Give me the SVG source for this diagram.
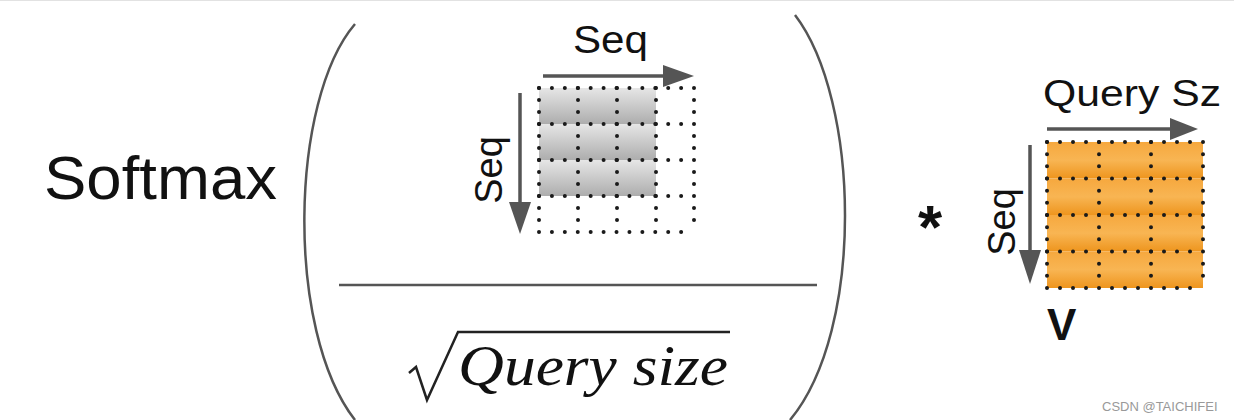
<svg xmlns="http://www.w3.org/2000/svg" width="1234" height="420" viewBox="0 0 1234 420">
<defs>
<linearGradient id="gGray" x1="0" y1="0" x2="0" y2="1">
<stop offset="0" stop-color="#e6e6e6"/>
<stop offset="1" stop-color="#adadad"/>
</linearGradient>
<linearGradient id="gOrange" x1="0" y1="0" x2="0" y2="1">
<stop offset="0" stop-color="#f6a83e"/>
<stop offset="0.5" stop-color="#f8b553"/>
<stop offset="1" stop-color="#ee951e"/>
</linearGradient>
<style>
.sans{font-family:"Liberation Sans",Arial,sans-serif;fill:#111}
.arrow{stroke:#555;stroke-width:3.5;fill:none}
.head{fill:#555}
.paren{stroke:#555;stroke-width:2.5;fill:none}
.dv{stroke:#1a1a1a;stroke-width:4;stroke-linecap:round;stroke-dasharray:0 12}
.dh{stroke:#1a1a1a;stroke-width:4;stroke-linecap:round;stroke-dasharray:0 12.92}
.dv2{stroke:#1a1a1a;stroke-width:4;stroke-linecap:round;stroke-dasharray:0 12.17}
.dh2{stroke:#1a1a1a;stroke-width:4;stroke-linecap:round;stroke-dasharray:0 13}
</style>
</defs>
<rect width="1234" height="420" fill="#ffffff"/>
<line x1="0" y1="0.5" x2="1234" y2="0.5" stroke="#e2e2e2" stroke-width="1"/>

<g id="softmax">
<text class="sans" x="44" y="199" font-size="61" textLength="233" lengthAdjust="spacingAndGlyphs">Softmax</text>
</g>

<g id="parentheses">
<path class="paren" d="M355,24 C290,100 285,330 355,420"/>
<path class="paren" d="M795,15 C860,100 865,330 790,420"/>
<line x1="339" y1="285" x2="817" y2="285" stroke="#555" stroke-width="2.5"/>
</g>

<g id="score-matrix">
<rect x="539" y="88" width="117" height="36" fill="url(#gGray)"/>
<rect x="539" y="124" width="117" height="36" fill="url(#gGray)"/>
<rect x="539" y="160" width="117" height="36" fill="url(#gGray)"/>
<line class="dv" x1="539" y1="88" x2="539" y2="232"/>
<line class="dv" x1="578" y1="88" x2="578" y2="232"/>
<line class="dv" x1="617" y1="88" x2="617" y2="232"/>
<line class="dv" x1="656" y1="88" x2="656" y2="232"/>
<line class="dv" x1="694" y1="88" x2="694" y2="232"/>
<line class="dh" x1="539" y1="88" x2="694" y2="88"/>
<line class="dh" x1="539" y1="124" x2="694" y2="124"/>
<line class="dh" x1="539" y1="160" x2="694" y2="160"/>
<line class="dh" x1="539" y1="196" x2="694" y2="196"/>
<line class="dh" x1="539" y1="232" x2="694" y2="232"/>
<text class="sans" x="573" y="53" font-size="38" textLength="75" lengthAdjust="spacingAndGlyphs">Seq</text>
<text class="sans" font-size="38" text-anchor="middle" transform="translate(502,170) rotate(-90)">Seq</text>
</g>

<g id="denominator">
<path d="M409,373 L416,367 L427,400 L458,332 L730,332" stroke="#222" stroke-width="2.5" fill="none" stroke-linejoin="miter"/>
<text x="458" y="385" font-family="'Liberation Serif','Times New Roman',serif" font-style="italic" font-size="56" fill="#111" textLength="270" lengthAdjust="spacingAndGlyphs">Query size</text>
</g>

<g id="multiply">
<text class="sans" x="930" y="248" font-size="62" font-weight="bold" text-anchor="middle">*</text>
</g>

<g id="v-matrix">
<rect x="1047" y="142" width="156" height="36.5" fill="url(#gOrange)"/>
<rect x="1047" y="178.5" width="156" height="36.5" fill="url(#gOrange)"/>
<rect x="1047" y="215" width="156" height="36.5" fill="url(#gOrange)"/>
<rect x="1047" y="251.5" width="156" height="36.5" fill="url(#gOrange)"/>
<line class="dv2" x1="1047" y1="142" x2="1047" y2="288"/>
<line class="dv2" x1="1099" y1="142" x2="1099" y2="288"/>
<line class="dv2" x1="1151" y1="142" x2="1151" y2="288"/>
<line class="dv2" x1="1203" y1="142" x2="1203" y2="288"/>
<line class="dh2" x1="1047" y1="142" x2="1203" y2="142"/>
<line class="dh2" x1="1047" y1="178.5" x2="1203" y2="178.5"/>
<line class="dh2" x1="1047" y1="215" x2="1203" y2="215"/>
<line class="dh2" x1="1047" y1="251.5" x2="1203" y2="251.5"/>
<line class="dh2" x1="1047" y1="288" x2="1203" y2="288"/>
<text class="sans" x="1043" y="106" font-size="37" textLength="178" lengthAdjust="spacingAndGlyphs">Query Sz</text>
<text class="sans" font-size="38" text-anchor="middle" transform="translate(1015,222) rotate(-90)">Seq</text>
<text class="sans" x="1047" y="340" font-size="44" font-weight="bold">V</text>
</g>

<g id="connectors">
<line class="arrow" x1="543" y1="76" x2="666" y2="76"/>
<polygon class="head" points="663,65 694,76 663,87"/>
<line class="arrow" x1="520" y1="93" x2="520" y2="206"/>
<polygon class="head" points="509,202 520,234 531,202"/>
<line class="arrow" x1="1047" y1="129" x2="1173" y2="129"/>
<polygon class="head" points="1170,118 1198,129 1170,140"/>
<line class="arrow" x1="1030" y1="145" x2="1030" y2="253"/>
<polygon class="head" points="1019,250 1030,284 1041,250"/>
</g>

<g id="watermark">
<text x="1102" y="411" font-family="'Liberation Sans',Arial,sans-serif" font-size="13" fill="#999">CSDN @TAICHIFEI</text>
</g>
</svg>
